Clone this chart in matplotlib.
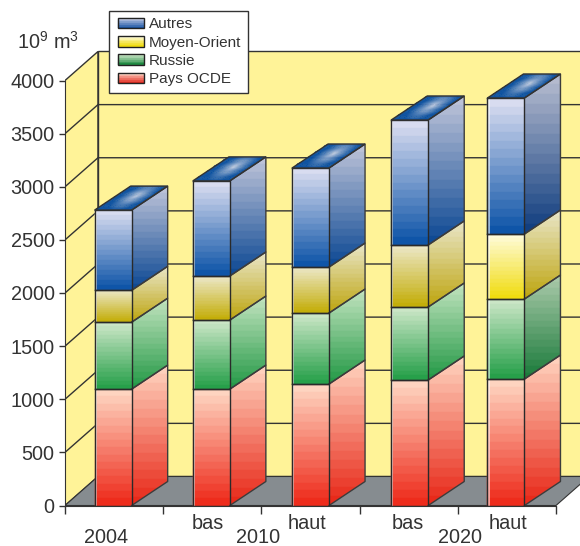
import numpy as np
import matplotlib
matplotlib.use("Agg")
import matplotlib.pyplot as plt
from matplotlib.legend_handler import HandlerBase
from matplotlib.patches import Rectangle, Polygon
from matplotlib.colors import to_rgb

plt.rcParams["font.family"] = ["Liberation Sans", "DejaVu Sans"]
plt.rcParams["mathtext.default"] = "regular"

# -- data --
positions = [0.49, 1.49, 2.5, 3.51, 4.49]
pays_ocde = [1095, 1095, 1143, 1181, 1190]
russie = [630, 650, 668, 687, 753]
moyen_orient = [300, 415, 433, 584, 612]
autres = [755, 895, 932, 1176, 1280]
series_names = ["Pays OCDE", "Russie", "Moyen-Orient", "Autres"]
series_values = [pays_ocde, russie, moyen_orient, autres]
y_ticks = [0, 500, 1000, 1500, 2000, 2500, 3000, 3500, 4000]
x_ticks = [0, 1, 2, 3, 4, 5]

# (top, bottom) colours of the front and the side of each series
front_cols = {
    "Pays OCDE": ("#fed4c0", "#ee2c1c"),
    "Russie": ("#cbe6c6", "#27a04a"),
    "Moyen-Orient": ("#ebe6c4", "#c4ae0a"),
    "Autres": ("#d8dcf0", "#0f55a8"),
}
side_cols = {
    "Pays OCDE": ("#fed0bc", "#e82a1a"),
    "Russie": ("#bfe2bc", "#269a48"),
    "Moyen-Orient": ("#e8e4c4", "#bfa714"),
    "Autres": ("#bcc2d8", "#0f4a94"),
}
# the last bar is printed a bit differently
last_front = {"Moyen-Orient": ("#fffbd8", "#f0dc10")}
last_side = {"Russie": ("#a8c8a8", "#1c7c3c"), "Autres": ("#b4bace", "#123f80")}

wall_col = "#fff398"
floor_col = "#868c90"
line_col = "#333333"
text_col = "#333333"

bar_w = 0.377
bar_dx, bar_dy = 0.367, 226
wall_dx, wall_dy = 0.336, 273
n_bands = 16
font_size = 14.3


def lerp(c0, c1, t):
    a, b = np.array(to_rgb(c0)), np.array(to_rgb(c1))
    return a + (b - a) * t


def front_face(ax, x0, x1, high, low, cols):
    edges = np.linspace(high, low, n_bands + 1)
    for i in range(n_bands):
        c = lerp(cols[0], cols[1], i / (n_bands - 1))
        ax.fill([x0, x1, x1, x0], [edges[i], edges[i], edges[i + 1], edges[i + 1]], color=c, lw=0.3, zorder=3)


def side_face(ax, x1, x2, high, low, cols):
    # bands stay horizontal, the sloped outline clips them
    clip = Polygon([(x1, high), (x2, high + bar_dy), (x2, low + bar_dy), (x1, low)],
                   transform=ax.transData, fc="none", ec="none")
    ax.add_patch(clip)
    edges = np.linspace(high + bar_dy, low, n_bands + 1)
    for i in range(n_bands):
        c = lerp(cols[0], cols[1], i / (n_bands - 1))
        art = ax.fill([x1, x2, x2, x1], [edges[i], edges[i], edges[i + 1], edges[i + 1]],
                      color=c, lw=0.3, zorder=3)[0]
        art.set_clip_path(clip)


def top_face(ax, x, y):
    # radial spot on the roof of a bar
    u = np.linspace(0, 1, 31)
    v = np.linspace(0, 1, 21)
    U, V = np.meshgrid(u, v)
    X = x + U * bar_w + V * bar_dx
    Y = y + V * bar_dy
    uc, vc = (u[:-1] + u[1:]) / 2, (v[:-1] + v[1:]) / 2
    Uc, Vc = np.meshgrid(uc, vc)
    r = np.clip(np.hypot((Uc - 0.55) / 0.42, (Vc - 0.6) / 0.6), 0, 1) ** 0.8
    a, b = np.array(to_rgb("#c4cfe6")), np.array(to_rgb("#0a50a2"))
    C = a + (b - a) * r[..., None]
    ax.pcolormesh(X, Y, C, shading="flat", zorder=3, antialiased=True, linewidth=0.2, edgecolor="face")


fig = plt.figure(figsize=(5.8, 5.46), dpi=100)
ax = fig.add_axes([65 / 580, 40.5 / 546, 515 / 580, 505.5 / 546])
ax.set_xlim(0, 515 / 98.2)
ax.set_ylim(0, 505.5 / 0.10625)

# walls and floor
top = y_ticks[-1]
ax.add_patch(Polygon([(0, 0), (wall_dx, wall_dy), (wall_dx, top + wall_dy), (0, top)],
                     fc=wall_col, ec=line_col, lw=1.0, zorder=1))
ax.add_patch(Polygon([(wall_dx, wall_dy), (6, wall_dy), (6, top + wall_dy), (wall_dx, top + wall_dy)],
                     fc=wall_col, ec=line_col, lw=1.0, zorder=1))
ax.add_patch(Polygon([(0, 0), (wall_dx, wall_dy), (x_ticks[-1] + wall_dx, wall_dy), (x_ticks[-1], 0)],
                     fc=floor_col, ec=line_col, lw=0.8, zorder=2))
for v in y_ticks[1:-1]:
    ax.plot([0, wall_dx, 6], [v, v + wall_dy, v + wall_dy], color=line_col, lw=1.0, zorder=2)

# bars
bottoms = np.zeros(len(positions))
for name, vals in zip(series_names, series_values):
    for i, (p, v) in enumerate(zip(positions, vals)):
        x0 = p - bar_w / 2
        x1 = x0 + bar_w
        x2 = x1 + bar_dx
        low, high = bottoms[i], bottoms[i] + v
        fc = front_cols[name]
        sc = side_cols[name]
        if i == len(positions) - 1:
            fc = last_front.get(name, fc)
            sc = last_side.get(name, sc)
        side_face(ax, x1, x2, high, low, sc)
        front_face(ax, x0, x1, high, low, fc)
        # thin light strip on the left of the front
        ax.fill([x0, x0 + 0.022, x0 + 0.022, x0], [high, high, low, low],
                color="white", alpha=0.55, lw=0, zorder=3.5)
        ax.plot([x0, x1, x1, x0, x0], [high, high, low, low, high], color="#2a2a2a", lw=1.0, zorder=5)
        ax.plot([x1, x2, x2, x1], [high, high + bar_dy, low + bar_dy, low], color="#3c3c3c", lw=1.0, zorder=4)
    bottoms += np.array(vals)

for p, h in zip(positions, bottoms):
    x0 = p - bar_w / 2
    top_face(ax, x0, h)
    ax.add_patch(Polygon([(x0, h), (x0 + bar_w, h), (x0 + bar_w + bar_dx, h + bar_dy), (x0 + bar_dx, h + bar_dy)],
                         fill=False, ec="#333333", lw=1.0, zorder=5))

# axes
for s in ["top", "right"]:
    ax.spines[s].set_visible(False)
ax.spines["left"].set_bounds(0, top)
ax.spines["bottom"].set_bounds(0, x_ticks[-1])
ax.spines["left"].set_color(line_col)
ax.spines["bottom"].set_color(line_col)
ax.spines["left"].set_zorder(6)
ax.spines["bottom"].set_zorder(6)
ax.set_yticks(y_ticks)
ax.set_xticks(x_ticks)
ax.set_xticklabels([])
ax.tick_params(axis="y", length=4.5, width=1, color=line_col, labelsize=font_size, labelcolor=text_col, pad=3)
ax.tick_params(axis="x", length=5.8, width=1, color=line_col)

ax.text(0.42, -298, "2004", ha="center", va="center", fontsize=font_size, color=text_col, clip_on=False)
ax.text(1.45, -172, "bas", ha="center", va="center", fontsize=font_size, color=text_col, clip_on=False)
ax.text(1.97, -298, "2010", ha="center", va="center", fontsize=font_size, color=text_col, clip_on=False)
ax.text(2.46, -172, "haut", ha="center", va="center", fontsize=font_size, color=text_col, clip_on=False)
ax.text(3.49, -172, "bas", ha="center", va="center", fontsize=font_size, color=text_col, clip_on=False)
ax.text(4.02, -298, "2020", ha="center", va="center", fontsize=font_size, color=text_col, clip_on=False)
ax.text(4.51, -172, "haut", ha="center", va="center", fontsize=font_size, color=text_col, clip_on=False)
ax.text(-0.49, 4365, "$10^9$ m$^3$", ha="left", va="center", fontsize=font_size, color=text_col, clip_on=False)


class GradientHandle:
    def __init__(self, cols):
        self.cols = cols


class GradientHandler(HandlerBase):
    def create_artists(self, legend, orig, xd, yd, w, h, fontsize, trans):
        arts = []
        n = 6
        shift = 2.0
        w = w - shift
        for i in range(n):
            c = lerp(orig.cols[0], orig.cols[1], i / (n - 1))
            arts.append(Rectangle((shift - xd, yd + h - (i + 1) * h / n), w, h / n, fc=c, ec=c, lw=0.2, transform=trans))
        arts.append(Rectangle((shift - xd, yd), w, h, fill=False, ec="#222222", lw=1.0, transform=trans))
        return arts


legend_cols = {
    "Autres": ("#c8d0e8", "#1a55a5"),
    "Moyen-Orient": ("#fffbd8", "#f0dc10"),
    "Russie": ("#cbe6c6", "#1f8a42"),
    "Pays OCDE": ("#fed8c8", "#e22a20"),
}
handles = [GradientHandle(legend_cols[n]) for n in series_names[::-1]]
leg = ax.legend(handles, series_names[::-1], handler_map={GradientHandle: GradientHandler()},
                loc="upper left", bbox_to_anchor=(109 / 580, 1 - 11 / 546), bbox_transform=fig.transFigure,
                fontsize=11, labelcolor=text_col, fancybox=False, framealpha=1, edgecolor="#333333",
                borderaxespad=0, borderpad=0.42, labelspacing=0.285, handlelength=1.9, handleheight=0.7,
                handletextpad=0.3)
leg.set_zorder(10)
leg.get_frame().set_linewidth(1.0)

fig.savefig("out.png", dpi=100)
